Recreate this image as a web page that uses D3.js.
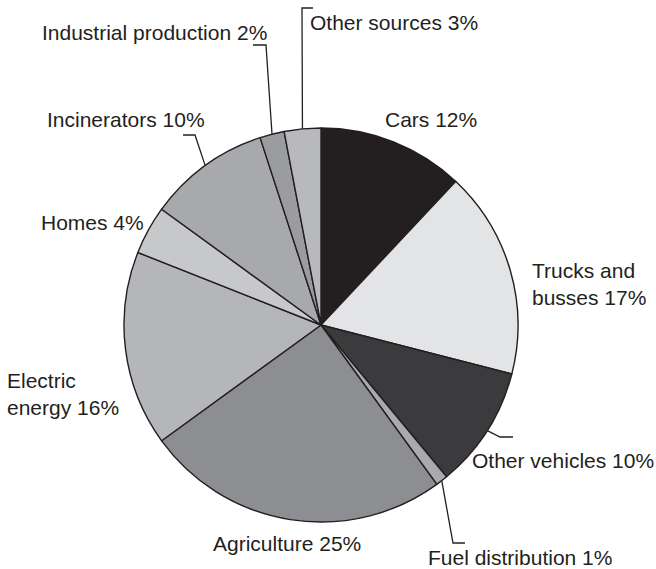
<!DOCTYPE html>
<html>
<head>
<meta charset="utf-8">
<script src="https://cdn.jsdelivr.net/npm/d3@7/dist/d3.min.js"></script>
<style>
  html, body { margin: 0; padding: 0; background: #ffffff; }
  svg { display: block; }
  text { font-family: "Liberation Sans", Arial, Helvetica, sans-serif; font-size: 21px; fill: #231f20; }
</style>
</head>
<body>
<svg id="chart" width="656" height="569"></svg>
<script>
// Sources of emissions, percent share (clockwise from 12 o'clock)
const categories = [
  "Cars", "Trucks and busses", "Other vehicles", "Fuel distribution",
  "Agriculture", "Electric energy", "Homes", "Incinerators",
  "Industrial production", "Other sources"
];
const values = [12, 17, 10, 1, 25, 16, 4, 10, 2, 3];
const fills = [
  "#231f20", "#e3e4e6", "#3b3b3d", "#a8aaad",
  "#8d8e91", "#b5b6b9", "#c7c8ca", "#a8a9ac",
  "#9b9ca0", "#b8b9bc"
];

// Label text lines for each slice
const labelLines = [
  ["Cars 12%"], ["Trucks and", "busses 17%"], ["Other vehicles 10%"],
  ["Fuel distribution 1%"], ["Agriculture 25%"], ["Electric", "energy 16%"],
  ["Homes 4%"], ["Incinerators 10%"], ["Industrial production 2%"], ["Other sources 3%"]
];

// Label placement: text start x, first baseline y
const labelPos = [
  [385, 127], [532, 278], [472, 468], [428, 565], [213, 551],
  [7, 388], [41, 230], [47, 127], [42, 40], [310, 30]
];

// Leader lines (elbow and end point) for the narrow slices
const leaders = {
  2: [[500, 437], [513, 437]],
  3: [[453, 543], [465, 543]],
  7: [[195, 135], [183, 135]],
  8: [[266, 45], [253, 45]],
  9: [[302, 8], [313, 8]]
};

const cx = 321, cy = 325, R = 197;
const svg = d3.select("#chart");
const g = svg.append("g").attr("transform", `translate(${cx},${cy})`);

const pie = d3.pie().sort(null).value(d => d)(values);
const arc = d3.arc().innerRadius(0).outerRadius(R);

g.selectAll("path.slice")
  .data(pie)
  .join("path")
  .attr("class", "slice")
  .attr("d", arc)
  .attr("fill", (d, i) => fills[i])
  .attr("stroke", "#231f20")
  .attr("stroke-width", 1.4)
  .attr("stroke-linejoin", "round");

// Leader lines start on the rim at each slice's mid angle
Object.entries(leaders).forEach(([k, pts]) => {
  const d = pie[+k];
  const a = (d.startAngle + d.endAngle) / 2;
  const start = [cx + R * Math.sin(a), cy - R * Math.cos(a)];
  svg.append("polyline")
    .attr("points", [start, ...pts].map(p => p.join(",")).join(" "))
    .attr("fill", "none")
    .attr("stroke", "#231f20")
    .attr("stroke-width", 1.3);
});

// Labels
categories.forEach((c, i) => {
  const t = svg.append("text")
    .attr("x", labelPos[i][0])
    .attr("y", labelPos[i][1]);
  labelLines[i].forEach((line, j) => {
    t.append("tspan")
      .attr("x", labelPos[i][0])
      .attr("dy", j === 0 ? 0 : 27)
      .text(line);
  });
});
</script>
</body>
</html>
